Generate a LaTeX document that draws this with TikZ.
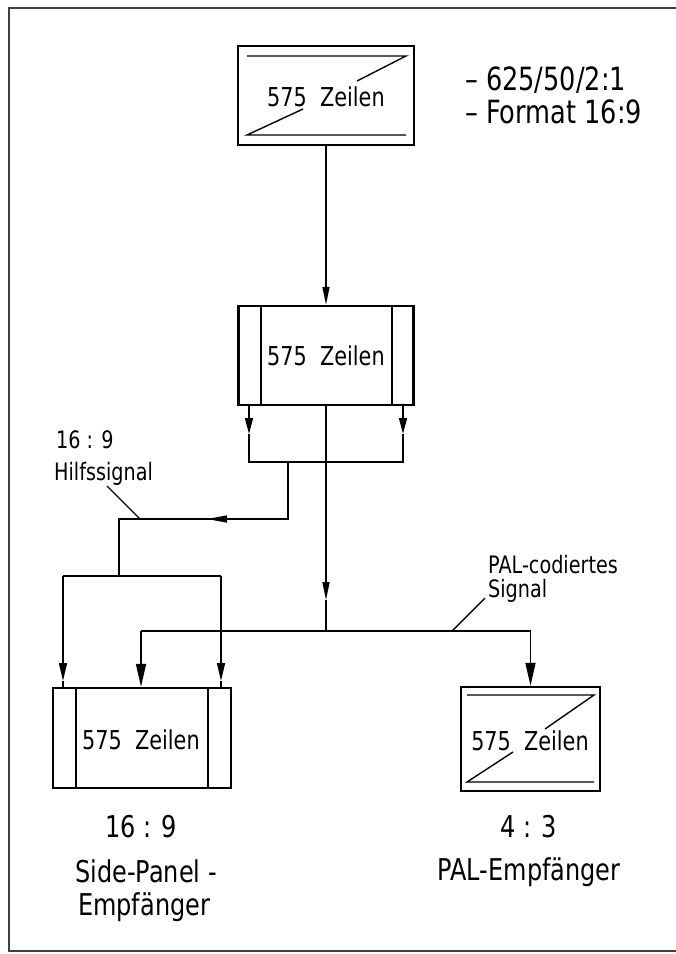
\documentclass[tikz,border=0pt]{standalone}
\usepackage{fontspec}
\setmainfont{DejaVu Sans}[FakeStretch=0.8]
\usetikzlibrary{arrows.meta}
\tikzset{
  box/.style={draw, line width=2.4pt, inner sep=0pt},
  conn/.style={line width=1.6pt},
  inner/.style={line width=1.4pt},
  boxtxt/.style={font=\fontsize{26}{28}\selectfont, inner sep=0pt},
  bigtxt/.style={font=\fontsize{30}{32}\selectfont, inner sep=0pt},
  spectxt/.style={font=\fontsize{32}{34}\selectfont, inner sep=0pt},
  midtxt/.style={font=\fontsize{24}{26}\selectfont, inner sep=0pt},
  smalltip/.style={-{Triangle[length=16pt,width=8pt]}},
  bigtip/.style={-{Triangle[length=23pt,width=10pt]}},
  frame/.style={line width=1.8pt, draw=black!75}
}
\begin{document}
\begin{tikzpicture}[x=1pt,y=-1pt]
\useasboundingbox (0,0) rectangle (676,954);
% page frame
\draw[frame] (680,8) -- (9,8) -- (9,951) -- (680,951);

% boxes
\node[box, minimum width=176pt, minimum height=99pt] (top) at (326,95.5) {};
\node[boxtxt] (toptxt) at (326,97) {575\ \ Zeilen};
\draw[inner] (247,56) -- (406,56) -- (357,81);
\draw[inner] (303,109) -- (247,135) -- (406,135);

\node[box, minimum width=175pt, minimum height=99pt] (mid) at (326,355.5) {};
\node[boxtxt] (midtxt) at (326,356) {575\ \ Zeilen};
\draw[inner] (261,306) -- (261,405);
\draw[inner] (392,306) -- (392,405);

\node[box, minimum width=178pt, minimum height=100pt] (side) at (142,738) {};
\node[boxtxt] (sidetxt) at (141,740) {575\ \ Zeilen};
\draw[inner] (76,688) -- (76,788);
\draw[inner] (208,688) -- (208,788);

\node[box, minimum width=139pt, minimum height=104pt] (pal) at (530.5,739) {};
\node[boxtxt] (paltxt) at (530,741) {575\ \ Zeilen};
\draw[inner] (467,695) -- (594,695) -- (545,729);
\draw[inner] (513,752) -- (467,782) -- (594,782);

% junction coordinates
\coordinate (jl) at (249,462);
\coordinate (jr) at (403,462);
\coordinate (hs) at (288,462);
\coordinate (hc) at (288,519);
\coordinate (hl) at (119,519);
\coordinate (hd) at (119,576);
\coordinate (sl) at (63,576);
\coordinate (sr) at (221,576);
\coordinate (pc) at (326,631);
\coordinate (pl) at (141,631);
\coordinate (pr) at (530.5,631);

% connectors
\draw[conn, -{Triangle[length=18pt,width=7pt]}] (top.south) -- (mid.north);

\draw[conn, smalltip] (mid.south west -| jl) -- (249,434);
\draw[conn] (249,434) -- (jl) -- (jr) -- (403,434);
\draw[conn, smalltip] (mid.south east -| jr) -- (403,434);

\draw[conn, -{Triangle[length=18pt,width=7pt]}] (mid.south) -- (326,600);
\draw[conn] (326,600) -- (pc);

\draw[conn] (hs) -- (hc) -- (207,519);
\draw[conn, -{Triangle[length=20pt,width=7pt]}] (hc) -- (207,519);
\draw[conn] (207,519) -- (hl) -- (hd);
\draw[conn] (sl) -- (sr);
\draw[conn, -{Triangle[length=18pt,width=8pt]}] (sl) -- (63,681);
\draw[conn] (63,681) -- (side.north -| sl);
\draw[conn, -{Triangle[length=18pt,width=8pt]}] (sr) -- (221,681);
\draw[conn] (221,681) -- (side.north -| sr);

\draw[conn] (pl) -- (pr);
\draw[conn, bigtip] (pl) -- (side.north -| pl);
\draw[conn, bigtip] (pr) -- (pal.north);

% leader lines
\coordinate (hlead) at (107,486);
\coordinate (plead) at (485,598);
\draw[inner] (hlead) -- (140,519);
\draw[inner] (plead) -- (452,631);

% texts
\node[spectxt, anchor=base west] (spec1) at (465,90) {–\ 625/50/2:1};
\node[spectxt, anchor=base west] (spec2) at (465,123) {–\ Format 16:9};

\node[midtxt, anchor=base west] (h1) at (56,448) {16 : 9};
\node[midtxt, anchor=base west] (h2) at (54,480) {Hilfssignal};

\node[midtxt, anchor=base west] (p1) at (488,573) {PAL-codiertes};
\node[midtxt, anchor=base west] (p2) at (488,597) {Signal};

\node[bigtxt, anchor=base] (r1) at (141,837) {16 : 9};
\node[bigtxt, anchor=base west] (r2) at (75,882) {Side-Panel -};
\node[bigtxt, anchor=base west] (r3) at (78,915) {Empfänger};
\node[bigtxt, anchor=base] (q1) at (529,837) {4 : 3};
\node[bigtxt, anchor=base] (q2) at (529,880) {PAL-Empfänger};
\end{tikzpicture}
\end{document}
